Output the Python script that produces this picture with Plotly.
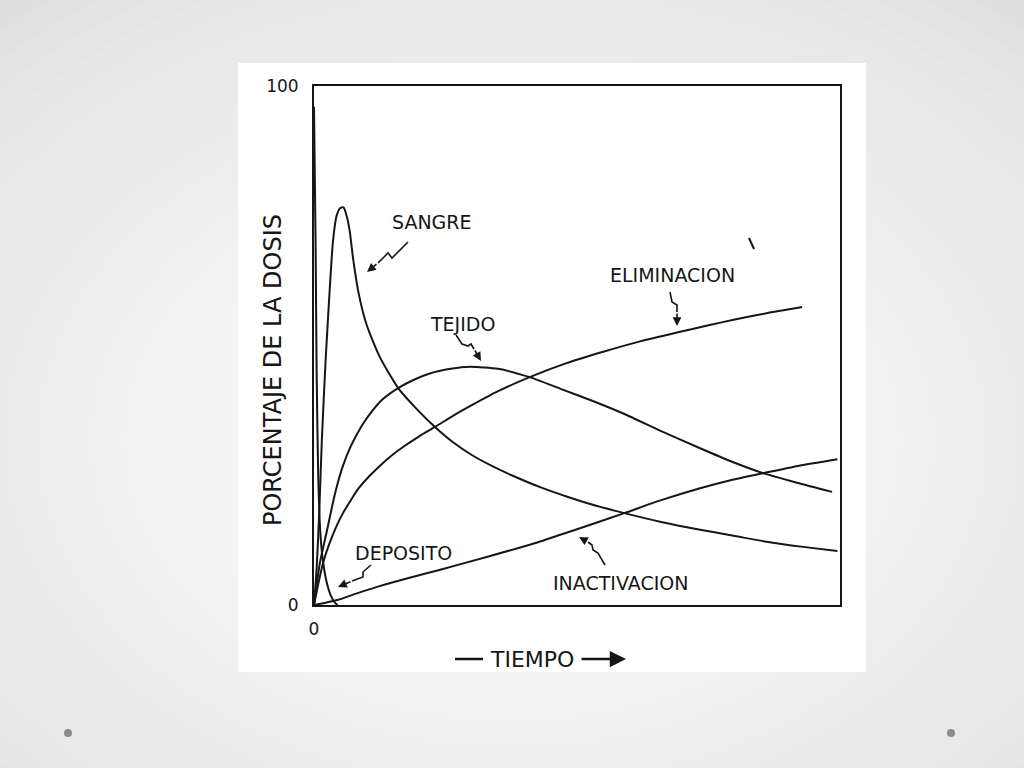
import plotly.graph_objects as go

# ---------------- data (time in arbitrary units 0-100) -------------
deposito_t = [0, 0.3, 0.5, 0.8, 1.2, 1.7, 2.5, 3.2, 4.0, 4.5]
deposito_v = [96, 70, 45, 25, 14, 8.5, 4, 1.8, 0.4, 0]

sangre_t = [0, 0.5, 1, 1.5, 2.2, 3, 3.6, 4.3, 5, 5.6, 6.2, 6.8, 7.4, 8.5, 10, 12.5, 16, 19.5, 23, 26.5, 30, 34, 37.8, 43, 48, 53, 59, 66, 73.4, 80, 86, 93, 99.5]
sangre_v = [0, 7, 18, 32, 47, 61, 70, 75, 76.5, 76.6, 75, 72, 67, 60, 54, 47.8, 41.8, 37.8, 34.3, 31.3, 28.9, 26.7, 24.9, 22.7, 20.9, 19.3, 17.7, 16.0, 14.5, 13.3, 12.2, 11.2, 10.4]

tejido_t = [0, 1.1, 2.5, 4, 5.5, 7, 9, 11, 13, 16, 19, 22, 26, 29.7, 35, 41, 47, 53, 59, 66, 73.4, 79, 85.4, 92, 98.5]
tejido_v = [0, 8, 14.5, 21.5, 26.8, 30.6, 34.4, 37.3, 39.6, 41.8, 43.4, 44.6, 45.5, 45.9, 45.5, 43.9, 41.6, 39.3, 36.8, 33.5, 30.2, 27.8, 25.4, 23.5, 21.8]

elim_t = [0, 0.8, 1.7, 3, 4.2, 5.5, 7, 8.5, 10.5, 12.5, 15, 17, 20, 23, 26.5, 30, 35, 41, 48, 55, 62, 69, 75, 80, 86, 92.8]
elim_v = [0, 4, 8, 12, 15, 17.7, 20.2, 22.5, 24.8, 26.8, 29, 30.5, 32.5, 34.3, 36.5, 38.5, 41.2, 43.9, 46.6, 48.8, 50.8, 52.5, 53.9, 55, 56.2, 57.4]

inact_t = [0, 2, 4.6, 8, 12, 18, 24, 33, 42.6, 50, 59, 66, 73.4, 79, 85.4, 92, 99.5]
inact_v = [0, 0.4, 1, 2.2, 3.5, 5.2, 6.8, 9.3, 12.1, 14.6, 17.7, 20.2, 22.5, 24.0, 25.4, 26.8, 28.1]

y_tickvals = [0, 100]
y_ticktext = ["0", "100"]
x_tickvals = [0]
x_ticktext = ["0"]

# ---------------- layout geometry ---------------------------------------------------------
W, H = 1024, 768
L, R, T, B = 314, 840, 86, 605


def px(x):
    return (x - L) / (R - L)


def py(y):
    return (B - y) / (B - T)


INK = "#161616"
FONT = "DejaVu Sans"

fig = go.Figure()
line_style = dict(color=INK, width=2, shape="spline", smoothing=0.6)
for name, t, v in [("DEPOSITO", deposito_t, deposito_v),
                   ("SANGRE", sangre_t, sangre_v),
                   ("TEJIDO", tejido_t, tejido_v),
                   ("ELIMINACION", elim_t, elim_v),
                   ("INACTIVACION", inact_t, inact_v)]:
    fig.add_trace(go.Scatter(x=t, y=v, mode="lines", name=name, line=line_style,
                             hoverinfo="skip"))

shapes = []
# slide background: radial-ish gradient from grey edges to white centre
for i in range(22):
    rx = 840 - i * 28
    ry = 620 - i * 21
    cx, cy = 512, 440
    shapes.append(dict(type="circle", xref="paper", yref="paper", layer="below",
                       x0=px(cx - rx), x1=px(cx + rx), y0=py(cy + ry), y1=py(cy - ry),
                       fillcolor="white", opacity=0.08, line=dict(width=0)))
# white picture sheet
shapes.append(dict(type="rect", xref="paper", yref="paper", layer="below",
                   x0=px(238), x1=px(866), y0=py(672), y1=py(63),
                   fillcolor="white", line=dict(width=0)))
# slide dots
for cx in (68, 951):
    shapes.append(dict(type="circle", xref="paper", yref="paper", layer="below",
                       x0=px(cx - 4), x1=px(cx + 4), y0=py(737), y1=py(729),
                       fillcolor="#8a8a8a", line=dict(width=0)))


def path(points):
    d = "M " + " L ".join(f"{px(x):.5f},{py(y):.5f}" for x, y in points)
    return dict(type="path", xref="paper", yref="paper", path=d,
                line=dict(color=INK, width=1.6))


# zig-zag leader lines (without their final arrow segment)
leaders = {
    "SANGRE": [(408, 242), (392, 258), (388, 253), (378, 263)],
    "TEJIDO": [(456, 335), (462, 344), (468, 346), (471, 344), (474, 349)],
    "ELIMINACION": [(670, 292), (672, 302), (677, 305), (677, 312)],
    "INACTIVACION": [(605, 565), (598, 553), (593, 550), (592, 545), (588, 542)],
    "DEPOSITO": [(371, 565), (363, 572), (363, 577), (352, 581)],
}
heads = {
    "SANGRE": (367, 272),
    "TEJIDO": (481, 361),
    "ELIMINACION": (677, 326),
    "INACTIVACION": (579, 537),
    "DEPOSITO": (338, 587),
}
for k, pts in leaders.items():
    shapes.append(path(pts))

# stray mark near the top right
shapes.append(dict(type="line", xref="paper", yref="paper",
                   x0=px(749), y0=py(238), x1=px(754), y1=py(249),
                   line=dict(color=INK, width=2)))
# dash before TIEMPO
shapes.append(dict(type="line", xref="paper", yref="paper",
                   x0=px(455), y0=py(659), x1=px(483), y1=py(659),
                   line=dict(color=INK, width=2.5)))

annotations = []
for k, pts in leaders.items():
    hx, hy = heads[k]
    tx, ty = pts[-1]
    annotations.append(dict(xref="paper", yref="paper", x=px(hx), y=py(hy),
                            ax=tx - hx, ay=ty - hy, axref="pixel", ayref="pixel",
                            text="", showarrow=True, arrowhead=2, arrowsize=1.1,
                            arrowwidth=1.6, arrowcolor=INK))

labels = [
    ("SANGRE", 432, 222, 19),
    ("TEJIDO", 462, 324, 19),
    ("ELIMINACION", 672, 275, 19),
    ("DEPOSITO", 403, 553, 19),
    ("INACTIVACION", 620, 583, 19),
    ("TIEMPO", 532, 659, 22),
]
for txt, x, y, s in labels:
    annotations.append(dict(xref="paper", yref="paper", x=px(x), y=py(y), text=txt,
                            showarrow=False, xanchor="center", yanchor="middle",
                            font=dict(family=FONT, size=s, color=INK)))

# arrow after TIEMPO
annotations.append(dict(xref="paper", yref="paper", x=px(626), y=py(659), ax=-46, ay=0,
                        axref="pixel", ayref="pixel", text="", showarrow=True,
                        arrowhead=2, arrowsize=1.3, arrowwidth=2.5, arrowcolor=INK))
# y axis title
annotations.append(dict(xref="paper", yref="paper", x=px(273), y=py(370),
                        text="PORCENTAJE DE LA DOSIS", textangle=-90, showarrow=False,
                        xanchor="center", yanchor="middle",
                        font=dict(family=FONT, size=24, color=INK)))

fig.update_layout(
    width=W, height=H,
    margin=dict(l=L, r=W - R, t=T, b=H - B, pad=0),
    paper_bgcolor="#d8d8d8",
    plot_bgcolor="white",
    showlegend=False,
    shapes=shapes,
    annotations=annotations,
    font=dict(family=FONT, color=INK),
)
fig.update_xaxes(range=[0, 100], showgrid=False, zeroline=False, showline=True,
                 mirror=True, linecolor=INK, linewidth=2, ticks="",
                 tickvals=x_tickvals, ticktext=x_ticktext, ticklabelstandoff=8,
                 tickfont=dict(family=FONT, size=17, color=INK))
fig.update_yaxes(range=[0, 100], showgrid=False, zeroline=False, showline=True,
                 mirror=True, linecolor=INK, linewidth=2, ticks="",
                 tickvals=y_tickvals, ticktext=y_ticktext, ticklabelstandoff=10,
                 tickfont=dict(family=FONT, size=17, color=INK))

fig.write_html("out.html", config={"displayModeBar": False},
               post_script="document.body.style.margin='0';")
